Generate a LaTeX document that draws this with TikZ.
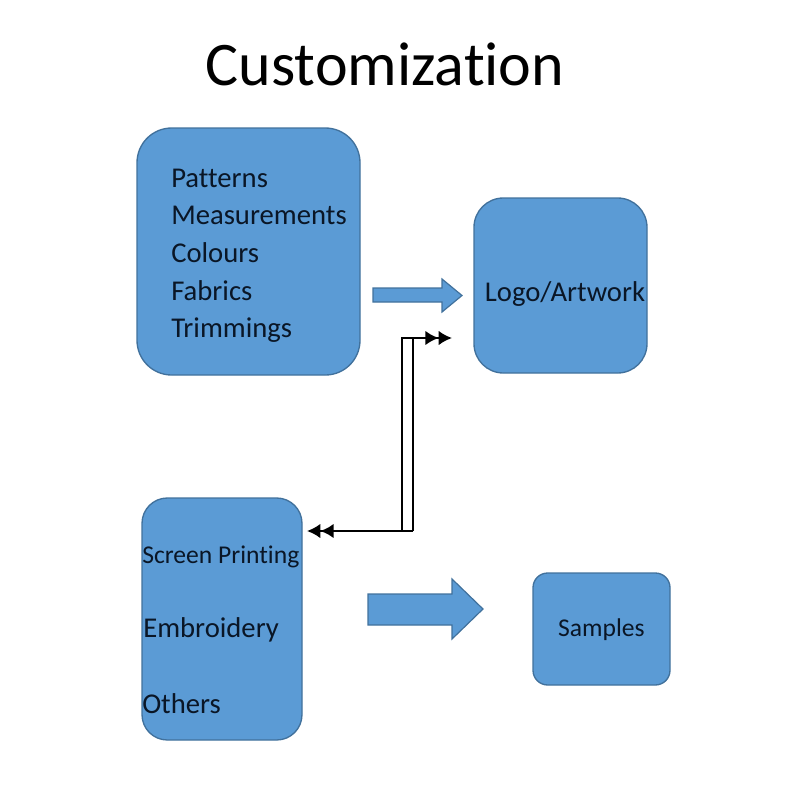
\documentclass[tikz,border=0pt]{standalone}
\usepackage{fontspec}
\setmainfont{Carlito}[Ligatures=CommonOff]
\usetikzlibrary{arrows.meta}
\definecolor{boxblue}{HTML}{5B9BD5}
\definecolor{boxline}{HTML}{41719C}
\definecolor{boxtext}{HTML}{0A1626}

\begin{document}
\begin{tikzpicture}
[x=0.75pt,y=-0.75pt,
  boxdecorate/.style={draw=boxline,fill=boxblue,line width=1pt,inner sep=0pt},
  textdecorate/.style={font=\fontsize{21.5}{26}\selectfont,text=boxtext,inner sep=0pt},
  smalldecorate/.style={font=\fontsize{19.2}{23}\selectfont,text=boxtext,inner sep=0pt},
  arrowdecorate/.style={draw=boxline,fill=boxblue,line width=0.9pt,line join=miter},
  linkdecorate/.style={line width=1.8pt,line join=miter},
  tipdecorate/.style={-{Latex[length=10pt,width=11pt]Latex[length=10pt,width=11pt]}}]
%%
%% Page frame
\useasboundingbox (0,0) rectangle (793,793);
%% Title
\node (title) at (385,85) [anchor=base,font=\fontsize{46.5}{55}\selectfont,inner sep=0pt] {Customization};
%%
%% Boxes
\foreach \nodename/\x/\y/\w/\h/\r in {
  specs/248.5/251.5/167.25pt/185.25pt/26pt, logo/560.5/285.5/129.75pt/131.25pt/22pt,
  methods/222/619/120pt/181.5pt/19pt, samples/601.5/629/102.75pt/84pt/11pt}
{
  \node (\nodename) at (\x,\y) [boxdecorate,minimum width=\w,minimum height=\h,rounded corners=\r] {};
}
%% Box texts
\foreach \nodename/\y/\txt in {
  patterns/187/Patterns, measures/224.5/Measurements, colours/262/Colours,
  fabrics/300/Fabrics, trims/337.5/Trimmings}
{
  \node (\nodename) at (171,\y) [anchor=base west,textdecorate] {\txt};
}
\node (logotext) at (565,301) [anchor=base,textdecorate] {Logo/Artwork};
\node (screen) at (142,563) [anchor=base west,smalldecorate] {Screen Printing};
\node (embroid) at (143,637) [anchor=base west,textdecorate] {Embroidery};
\node (others) at (142,713) [anchor=base west,textdecorate] {Others};
\node (samplestext) at (601.5,636) [anchor=base,smalldecorate] {Samples};
%%
%% Block arrows
\draw[arrowdecorate] (373,288) -- (442,288) -- (442,279) -- (462,295.5)
  -- (442,312) -- (442,302) -- (373,302) -- cycle;
\draw[arrowdecorate] (368,594) -- (452,594) -- (452,579) -- (483,609)
  -- (452,639) -- (452,625) -- (368,625) -- cycle;
%%
%% Two-way link
\coordinate (linkA) at (307,531);
\coordinate (linkB) at (452,338);
\coordinate (barL) at (402,531);
\coordinate (barR) at (413,531);
\draw[linkdecorate,tipdecorate] (barR) -- (linkA);
\draw[linkdecorate,tipdecorate] (barL) |- (linkB);
\draw[linkdecorate] (barR) -- (barR |- linkB) -- (barL |- linkB);
\end{tikzpicture}
\end{document}
